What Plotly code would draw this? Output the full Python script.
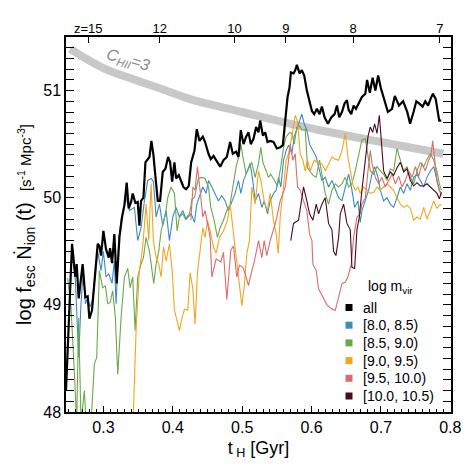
import plotly.graph_objects as go

# ---- data ----
t_all = [0.246, 0.2547, 0.2595, 0.2614, 0.2643, 0.2700, 0.2739, 0.2773, 0.2797, 0.2835,
         0.2917, 0.2941, 0.2965, 0.2999, 0.3037, 0.3076, 0.3095, 0.3124, 0.3157, 0.3191,
         0.3230, 0.3268, 0.3302, 0.3335, 0.3364, 0.3398, 0.3422, 0.3460, 0.3494, 0.3518,
         0.3542, 0.3576, 0.3605, 0.3638, 0.3663, 0.3691, 0.3720, 0.3749, 0.3783, 0.3816,
         0.3855, 0.3893, 0.3932, 0.3961, 0.3990, 0.4023, 0.4047, 0.4086, 0.4119, 0.4153,
         0.4192, 0.4230, 0.4264, 0.4312, 0.4345, 0.4384, 0.4432, 0.4465, 0.4514, 0.4547,
         0.4586, 0.4624, 0.4682, 0.4730, 0.4778, 0.4826, 0.4865, 0.4913, 0.4946, 0.4980,
         0.5019, 0.5057, 0.5091, 0.5124, 0.5163, 0.5201, 0.5235, 0.5259, 0.5298, 0.5331,
         0.5365, 0.5403, 0.5451, 0.5500, 0.5548, 0.5586, 0.5620, 0.5654, 0.5682, 0.5702,
         0.5740, 0.5764, 0.5788, 0.5827, 0.5860, 0.5894, 0.5932, 0.5971, 0.6005, 0.6038,
         0.6077, 0.6115, 0.6149, 0.6188, 0.6236, 0.6284, 0.6332, 0.6366, 0.6399, 0.6438,
         0.6476, 0.6510, 0.6534, 0.6572, 0.6606, 0.6640, 0.6678, 0.6726, 0.6775, 0.6800,
         0.6840, 0.6880, 0.6920, 0.6960, 0.7000, 0.7050, 0.7100, 0.7160, 0.7200, 0.7260,
         0.7320, 0.7380, 0.7420, 0.7470, 0.7510, 0.7550, 0.7600, 0.7640, 0.7680, 0.7720,
         0.7750, 0.7790, 0.7820, 0.7840, 0.7870]
y_all = [48.2, 49.57, 49.26, 49.38, 49.06, 49.38, 49.07, 49.08, 48.87, 48.95,
         49.57, 49.55, 49.46, 49.69, 49.52, 49.44, 49.53, 49.39, 49.66, 49.2,
         49.63, 49.82, 49.93, 50.14, 49.9, 49.96, 50.04, 49.95, 49.96, 49.74,
         49.97, 50.0, 50.33, 50.36, 50.38, 50.53, 50.4, 50.2, 49.97, 49.97,
         50.24, 50.27, 50.38, 50.33, 50.15, 50.33, 50.18, 50.21, 50.16, 50.1,
         50.08, 50.11, 50.33, 50.44, 50.64, 50.53, 50.57, 50.52, 50.41, 50.36,
         50.39, 50.35, 50.29, 50.35, 50.38, 50.52, 50.41, 50.43, 50.38, 50.63,
         50.5, 50.57, 50.61, 50.5, 50.55, 50.66, 50.61, 50.72, 50.58, 50.61,
         50.52, 50.53, 50.52, 50.46, 50.47, 50.49, 50.75, 50.94, 51.03, 51.17,
         51.16, 51.19, 51.24, 51.16, 51.19, 51.14, 51.0, 50.89, 50.81, 50.78,
         50.83, 50.78, 50.85, 50.75, 50.69, 50.75, 50.78, 50.86, 50.75, 50.8,
         50.88, 50.91, 50.82, 50.78, 50.86, 50.83, 50.88, 50.94, 50.97, 51.1,
         50.98, 51.12, 51.0, 51.14, 51.02, 50.9, 50.8, 50.83, 50.95, 50.86,
         50.9, 50.8, 50.69, 50.8, 50.9, 50.88, 50.85, 50.9, 50.86, 50.93,
         50.97, 50.92, 50.8, 50.72, 50.72]

t_b1 = [0.2547, 0.2595, 0.2643, 0.2676, 0.2710, 0.2739, 0.2773, 0.2806, 0.2845, 0.2917,
        0.2965, 0.2999, 0.3037, 0.3076, 0.3124, 0.3157, 0.3182, 0.3220, 0.3254, 0.3326,
        0.3374, 0.3446, 0.3494, 0.3542, 0.3590, 0.3638, 0.3687, 0.3720, 0.3759, 0.3807,
        0.3855, 0.3903, 0.3951, 0.3999, 0.4047, 0.4095, 0.4143, 0.4192, 0.4264, 0.4312,
        0.4345, 0.4393, 0.4432, 0.4480, 0.4514, 0.4562, 0.4610, 0.4658, 0.4706, 0.4754,
        0.4802, 0.4850, 0.4898, 0.4946, 0.4980, 0.5019, 0.5067, 0.5115, 0.5153, 0.5187,
        0.5235, 0.5283, 0.5317, 0.5365, 0.5403, 0.5451, 0.5490, 0.5524, 0.5557, 0.5596,
        0.5634, 0.5668, 0.5716, 0.5750, 0.5788, 0.5827, 0.5860, 0.5894, 0.5932, 0.5971,
        0.6019, 0.6067, 0.6115, 0.6149, 0.6197, 0.6245, 0.6294, 0.6342, 0.6390, 0.6438,
        0.6486, 0.6534, 0.6582, 0.6621, 0.6669, 0.6702, 0.6726, 0.6775, 0.6823, 0.6871,
        0.6909, 0.6957, 0.6991, 0.7039, 0.7087, 0.7135, 0.7183, 0.7232, 0.7280, 0.7328,
        0.7376, 0.7424, 0.7472, 0.7520, 0.7568, 0.7616, 0.7664, 0.7712, 0.7761, 0.7809,
        0.7842, 0.7871]
y_b1 = [49.5, 49.23, 48.51, 49.01, 49.32, 49.01, 49.07, 48.98, 49.05, 49.5,
        49.32, 49.5, 49.26, 49.29, 49.2, 49.41, 49.01, 49.6, 49.79, 50.0,
        49.88, 49.91, 49.6, 49.72, 49.97, 50.16, 50.18, 50.15, 49.82, 49.94,
        49.74, 49.88, 49.6, 49.82, 49.91, 49.82, 49.88, 49.8, 49.85, 49.77,
        49.94, 50.04, 50.1, 50.04, 50.16, 50.1, 50.04, 49.97, 50.02, 49.97,
        49.88, 49.97, 50.04, 50.16, 50.04, 50.16, 50.25, 50.32, 50.16, 49.97,
        50.04, 49.91, 49.97, 49.85, 49.97, 50.04, 50.07, 50.19, 50.1, 50.35,
        50.44, 50.49, 50.41, 50.57, 50.64, 50.72, 50.78, 50.69, 50.63, 50.5,
        50.44, 50.38, 50.25, 50.16, 50.19, 50.1, 50.16, 50.07, 50.0, 49.97,
        50.1, 50.22, 50.07, 49.91, 49.97, 49.77, 49.88, 49.97, 50.07, 50.22,
        50.29, 50.19, 50.07, 49.97, 50.0, 49.94, 49.91, 50.0, 50.1, 50.04,
        50.13, 50.07, 50.19, 50.22, 50.16, 50.1, 50.19, 50.25, 50.29, 50.16,
        50.07, 50.04]

t_b2 = [0.2484, 0.2532, 0.2580, 0.2614, 0.2643, 0.2676, 0.2725, 0.2749, 0.2821, 0.2869,
        0.2903, 0.2941, 0.2989, 0.3028, 0.3061, 0.3095, 0.3133, 0.3172, 0.3206, 0.3254,
        0.3302, 0.3350, 0.3384, 0.3422, 0.3456, 0.3494, 0.3542, 0.3576, 0.3614, 0.3663,
        0.3725, 0.3759, 0.3797, 0.3831, 0.3893, 0.3927, 0.3975, 0.4023, 0.4062, 0.4095,
        0.4143, 0.4182, 0.4240, 0.4278, 0.4312, 0.4369, 0.4417, 0.4465, 0.4514, 0.4547,
        0.4595, 0.4643, 0.4682, 0.4730, 0.4778, 0.4826, 0.4865, 0.4913, 0.4961, 0.4980,
        0.5019, 0.5057, 0.5091, 0.5139, 0.5187, 0.5235, 0.5269, 0.5298, 0.5346, 0.5379,
        0.5413, 0.5461, 0.5509, 0.5557, 0.5596, 0.5634, 0.5682, 0.5716, 0.5750, 0.5788,
        0.5827, 0.5860, 0.5908, 0.5942, 0.5981, 0.6019, 0.6067, 0.6115, 0.6149, 0.6197,
        0.6245, 0.6294, 0.6342, 0.6390, 0.6438, 0.6486, 0.6534, 0.6582, 0.6630, 0.6678,
        0.6726, 0.6775, 0.6813, 0.6847, 0.6895, 0.6943, 0.6991, 0.7039, 0.7087, 0.7135,
        0.7183, 0.7232, 0.7280, 0.7328, 0.7376, 0.7424, 0.7472, 0.7520, 0.7568, 0.7616,
        0.7664, 0.7712, 0.7761, 0.7809, 0.7842, 0.7871]
y_b2 = [49.25, 48.98, 48.38, 47.9, 48.88, 47.9, 48.2, 47.9, 47.9, 48.45,
        48.51, 49.32, 49.16, 49.18, 49.01, 49.02, 49.13, 48.88, 48.35, 48.88,
        49.26, 49.34, 49.16, 49.26, 48.76, 49.26, 49.38, 49.44, 49.63, 49.5,
        49.2, 49.38, 49.5, 49.69, 49.85, 50.0, 50.1, 50.04, 49.69, 49.82,
        49.85, 49.8, 49.85, 49.99, 50.0, 50.18, 50.19, 50.18, 50.1, 49.91,
        49.79, 49.63, 49.72, 49.79, 49.88, 49.94, 50.1, 50.29, 50.41, 50.5,
        50.35, 50.22, 50.27, 50.33, 50.19, 50.32, 50.47, 50.33, 50.25, 50.19,
        50.22, 50.16, 50.11, 50.29, 50.47, 50.57, 50.61, 50.6, 50.5, 50.66,
        50.67, 50.63, 50.64, 50.28, 50.25, 50.21, 50.19, 50.35, 50.22, 50.04,
        49.94, 50.07, 50.13, 50.1, 50.13, 50.19, 50.1, 50.13, 50.25, 50.38,
        50.54, 50.55, 50.38, 50.25, 50.22, 50.29, 50.25, 50.22, 50.16, 50.27,
        50.25, 50.46, 50.35, 50.25, 50.29, 50.19, 50.13, 50.25, 50.33, 50.29,
        50.36, 50.41, 50.35, 50.24, 50.13, 50.07]

t_b3 = [0.3422, 0.3470, 0.3518, 0.3566, 0.3614, 0.3653, 0.3687, 0.3720, 0.3759, 0.3797,
        0.3831, 0.3865, 0.3903, 0.3951, 0.3990, 0.4023, 0.4062, 0.4095, 0.4134, 0.4168,
        0.4216, 0.4249, 0.4288, 0.4321, 0.4355, 0.4393, 0.4432, 0.4465, 0.4499, 0.4538,
        0.4586, 0.4624, 0.4672, 0.4730, 0.4788, 0.4826, 0.4865, 0.4922, 0.4961, 0.4995,
        0.5028, 0.5067, 0.5105, 0.5139, 0.5187, 0.5235, 0.5269, 0.5317, 0.5365, 0.5403,
        0.5451, 0.5490, 0.5520, 0.5548, 0.5586, 0.5634, 0.5668, 0.5716, 0.5764, 0.5798,
        0.5836, 0.5875, 0.5908, 0.5942, 0.5981, 0.6038, 0.6101, 0.6149, 0.6197, 0.6245,
        0.6294, 0.6342, 0.6390, 0.6438, 0.6486, 0.6524, 0.6558, 0.6592, 0.6630, 0.6669,
        0.6702, 0.6750, 0.6799, 0.6847, 0.6895, 0.6943, 0.6991, 0.7039, 0.7087, 0.7135,
        0.7183, 0.7232, 0.7280, 0.7328, 0.7376, 0.7424, 0.7472, 0.7520, 0.7568, 0.7616,
        0.7664, 0.7712, 0.7761, 0.7809, 0.7842, 0.7871]
y_b3 = [47.8, 48.76, 49.32, 49.54, 49.94, 49.6, 50.13, 49.6, 49.44, 49.38,
        49.26, 49.54, 49.41, 49.57, 49.32, 48.95, 48.85, 48.76, 48.88, 48.96,
        48.95, 49.3, 49.15, 48.82, 49.3, 49.54, 49.72, 49.63, 49.79, 49.69,
        49.54, 49.48, 49.63, 49.69, 49.79, 49.94, 49.72, 49.41, 49.16, 48.99,
        49.16, 49.48, 49.6, 50.1, 49.94, 50.25, 50.16, 49.97, 49.88, 50.04,
        49.79, 49.66, 49.48, 49.82, 50.04, 50.35, 50.41, 50.57, 50.77, 50.71,
        50.41, 50.35, 50.25, 50.35, 50.25, 50.35, 50.32, 50.32, 50.25, 50.32,
        50.38, 50.36, 50.35, 50.44, 50.6, 50.38, 50.25, 50.13, 50.07, 50.1,
        50.04, 50.1, 50.07, 50.04, 50.05, 50.1, 50.07, 50.1, 50.13, 50.1,
        50.07, 50.0, 49.94, 49.91, 49.93, 49.9, 49.79, 49.82, 49.8, 49.91,
        49.8, 49.88, 49.97, 49.9, 49.93, 49.94]

t_b4 = [0.4260, 0.4290, 0.4321, 0.4355, 0.4393, 0.4432, 0.4465, 0.4514, 0.4538, 0.4562,
        0.4624, 0.4692, 0.4730, 0.4778, 0.4836, 0.4874, 0.4922, 0.4961, 0.5009, 0.5043,
        0.5091, 0.5139, 0.5173, 0.5235, 0.5283, 0.5317, 0.5355, 0.5403, 0.5442, 0.5490,
        0.5548, 0.5620, 0.5668, 0.5692, 0.5730, 0.5764, 0.5798, 0.5836, 0.5884, 0.5932,
        0.5971, 0.6005, 0.6019, 0.6067, 0.6101, 0.6149, 0.6221, 0.6294, 0.6342, 0.6390,
        0.6438, 0.6486, 0.6524, 0.6572, 0.6606, 0.6654, 0.6702, 0.6726, 0.6775, 0.6813,
        0.6847, 0.6871, 0.6919, 0.6967, 0.7015, 0.7063, 0.7111, 0.7160, 0.7208, 0.7256,
        0.7304, 0.7352, 0.7400, 0.7448, 0.7496, 0.7544, 0.7592, 0.7640, 0.7688, 0.7722,
        0.7746, 0.7775, 0.7809, 0.7842, 0.7871]
y_b4 = [49.79, 50.1, 50.07, 50.29, 50.07, 49.82, 49.88, 49.72, 49.63, 49.26,
        49.43, 49.4, 49.49, 49.05, 49.51, 49.55, 49.26, 49.37, 49.35, 49.29,
        49.18, 49.32, 49.4, 49.6, 49.44, 49.6, 49.46, 49.6, 49.69, 49.79,
        49.97, 50.1, 50.35, 50.5, 50.35, 50.41, 50.1, 50.07, 49.97, 49.88,
        49.66, 49.6, 49.38, 49.32, 49.15, 49.09, 49.0, 48.96, 48.95, 49.07,
        49.2, 49.21, 49.26, 49.38, 49.63, 49.82, 49.85, 49.94, 50.0, 50.25,
        50.44, 50.32, 50.19, 50.13, 50.19, 50.1, 50.16, 50.22, 50.13, 50.2,
        50.1, 50.16, 50.25, 50.19, 50.29, 50.2, 50.32, 50.25, 50.35, 50.4,
        50.53, 50.35, 50.15, 50.07, 50.02]

t_b5 = [0.5700, 0.5740, 0.5812, 0.5884, 0.5932, 0.5971, 0.6019, 0.6067, 0.6101, 0.6149,
        0.6197, 0.6245, 0.6294, 0.6318, 0.6351, 0.6390, 0.6414, 0.6462, 0.6510, 0.6558,
        0.6582, 0.6621, 0.6654, 0.6688, 0.6726, 0.6775, 0.6813, 0.6847, 0.6880, 0.6909,
        0.6943, 0.6977, 0.7006, 0.7039, 0.7087, 0.7135, 0.7183, 0.7232, 0.7280, 0.7328,
        0.7376, 0.7424, 0.7472, 0.7520, 0.7568, 0.7616, 0.7664, 0.7712, 0.7761, 0.7809,
        0.7842, 0.7871]
y_b5 = [49.6, 49.76, 49.79, 50.1, 49.97, 49.85, 49.79, 49.94, 49.85, 49.94,
        50.0, 49.76, 49.7, 49.5, 49.46, 49.63, 49.85, 49.94, 49.76, 49.7,
        49.35, 49.34, 49.7, 49.82, 50.07, 50.38, 50.57, 50.66, 50.61, 50.69,
        50.6, 50.77, 50.53, 50.25, 50.18, 50.24, 50.21, 50.28, 50.33, 50.24,
        50.27, 50.16, 50.11, 50.14, 50.11, 50.11, 50.13, 50.1, 50.07, 50.04,
        49.99, 50.05]

# C_HII = 3 reference curve
t_chii = [0.252, 0.30, 0.35, 0.382, 0.425, 0.50, 0.562, 0.612, 0.70, 0.79]
y_chii = [51.39, 51.21, 51.09, 51.02, 50.92, 50.80, 50.70, 50.63, 50.52, 50.41]

# redshift ticks on the top axis (time in Gyr where each z falls)
z_tick_t = [0.278, 0.381, 0.489, 0.563, 0.660, 0.785]
z_tick_text = ["z=15", "12", "10", "9", "8", "7"]

bins = ["all", "[8.0, 8.5)", "[8.5, 9.0)", "[9.0, 9.5)", "[9.5, 10.0)", "[10.0, 10.5)"]
colors = ["#000000", "#3b8bbf", "#6aa94a", "#f3a51f", "#dc6b6b", "#4b0a1c"]

series = [(t_all, y_all), (t_b1, y_b1), (t_b2, y_b2), (t_b3, y_b3), (t_b4, y_b4), (t_b5, y_b5)]

fig = go.Figure()

fig.add_trace(go.Scatter(x=t_chii, y=y_chii, mode="lines", line_shape="spline",
                         line=dict(color="#c8c8c8", width=8), showlegend=False, hoverinfo="skip"))

# coloured bins first, black total on top
for i in [1, 2, 3, 4, 5, 0]:
    tx, ty = series[i]
    fig.add_trace(go.Scatter(x=tx, y=ty, mode="lines", name=bins[i],
                             line=dict(color=colors[i], width=2.2 if i == 0 else 1.1),
                             showlegend=False))

# dummy trace so the top axis is drawn
fig.add_trace(go.Scatter(x=[None], y=[None], xaxis="x2", showlegend=False, hoverinfo="skip"))

# plot box in page pixels (the page body adds an 8px offset)
L, R, T, B = 66, 451, 37, 412
OFF = 8
W, H = R - L, B - T


def px(x):
    return (x - L) / W


def py(y):
    return (B - y) / H


font = "Liberation Sans, Arial, sans-serif"
annotations = [
    dict(x=px(128), y=py(60), xref="paper", yref="paper", showarrow=False,
         xanchor="center", yanchor="middle",
         text="<i>C<sub>HII</sub>=3</i>", textangle=16,
         font=dict(size=16, color="#8a8a8a")),
    dict(x=px(366), y=py(287), xref="paper", yref="paper", showarrow=False,
         xanchor="left", yanchor="middle", text="log m<sub>vir</sub>",
         font=dict(size=14, color="black")),
]
shapes = []
for i, lab in enumerate(bins):
    yc = 307.5 + 17.7 * i
    annotations.append(dict(x=px(361), y=py(yc), xref="paper", yref="paper", showarrow=False,
                            xanchor="left", yanchor="middle", text=lab,
                            font=dict(size=14, color="black")))
    shapes.append(dict(type="rect", xref="paper", yref="paper",
                       x0=px(345.5), x1=px(352.5), y0=py(yc + 3.5), y1=py(yc - 3.5),
                       fillcolor=colors[i], line=dict(width=0)))

fig.update_layout(
    width=469 - OFF, height=469 - OFF,
    margin=dict(l=L - OFF, r=469 - R, t=T - OFF, b=469 - B, autoexpand=False),
    plot_bgcolor="white", paper_bgcolor="white",
    font=dict(family=font, color="black"),
    showlegend=False,
    annotations=annotations,
    shapes=shapes,
    xaxis=dict(range=[0.246, 0.801], tickvals=[0.3, 0.4, 0.5, 0.6, 0.7, 0.8],
               ticktext=["0.3", "0.4", "0.5", "0.6", "0.7", "0.8"], automargin=False,
               ticks="inside", ticklen=6, tickwidth=1.2, tickcolor="black",
               minor=dict(dtick=0.01, ticks="inside", ticklen=3, tickcolor="black"),
               showline=True, linecolor="black", linewidth=1.5, mirror=True,
               showgrid=False, zeroline=False, tickfont=dict(size=16),
               title=dict(text="t<sub> H</sub> [Gyr]", font=dict(size=18), standoff=6)),
    xaxis2=dict(overlaying="x", side="top", matches="x", range=[0.246, 0.801],
                automargin=False,
                tickvals=z_tick_t, ticktext=z_tick_text, ticks="inside", ticklen=6,
                tickwidth=1.2, tickcolor="black", showgrid=False, zeroline=False,
                showline=False, tickfont=dict(size=13)),
    yaxis=dict(range=[48, 51.5], tickvals=[48, 49, 50, 51], automargin=False,
               ticks="inside", ticklen=8, tickwidth=1.2, tickcolor="black",
               minor=dict(dtick=0.1, ticks="inside", ticklen=4, tickcolor="black"),
               showline=True, linecolor="black", linewidth=1.5, mirror="allticks",
               showgrid=False, zeroline=False, tickfont=dict(size=16),
               title=dict(text="log f<sub>esc</sub> Ṅ<sub>ion</sub> (t)  "
                               "<span style='font-size:15px'>[s<sup>-1</sup> Mpc<sup>-3</sup>]</span>",
                          font=dict(size=20), standoff=6)),
)

fig.write_html("out.html")
